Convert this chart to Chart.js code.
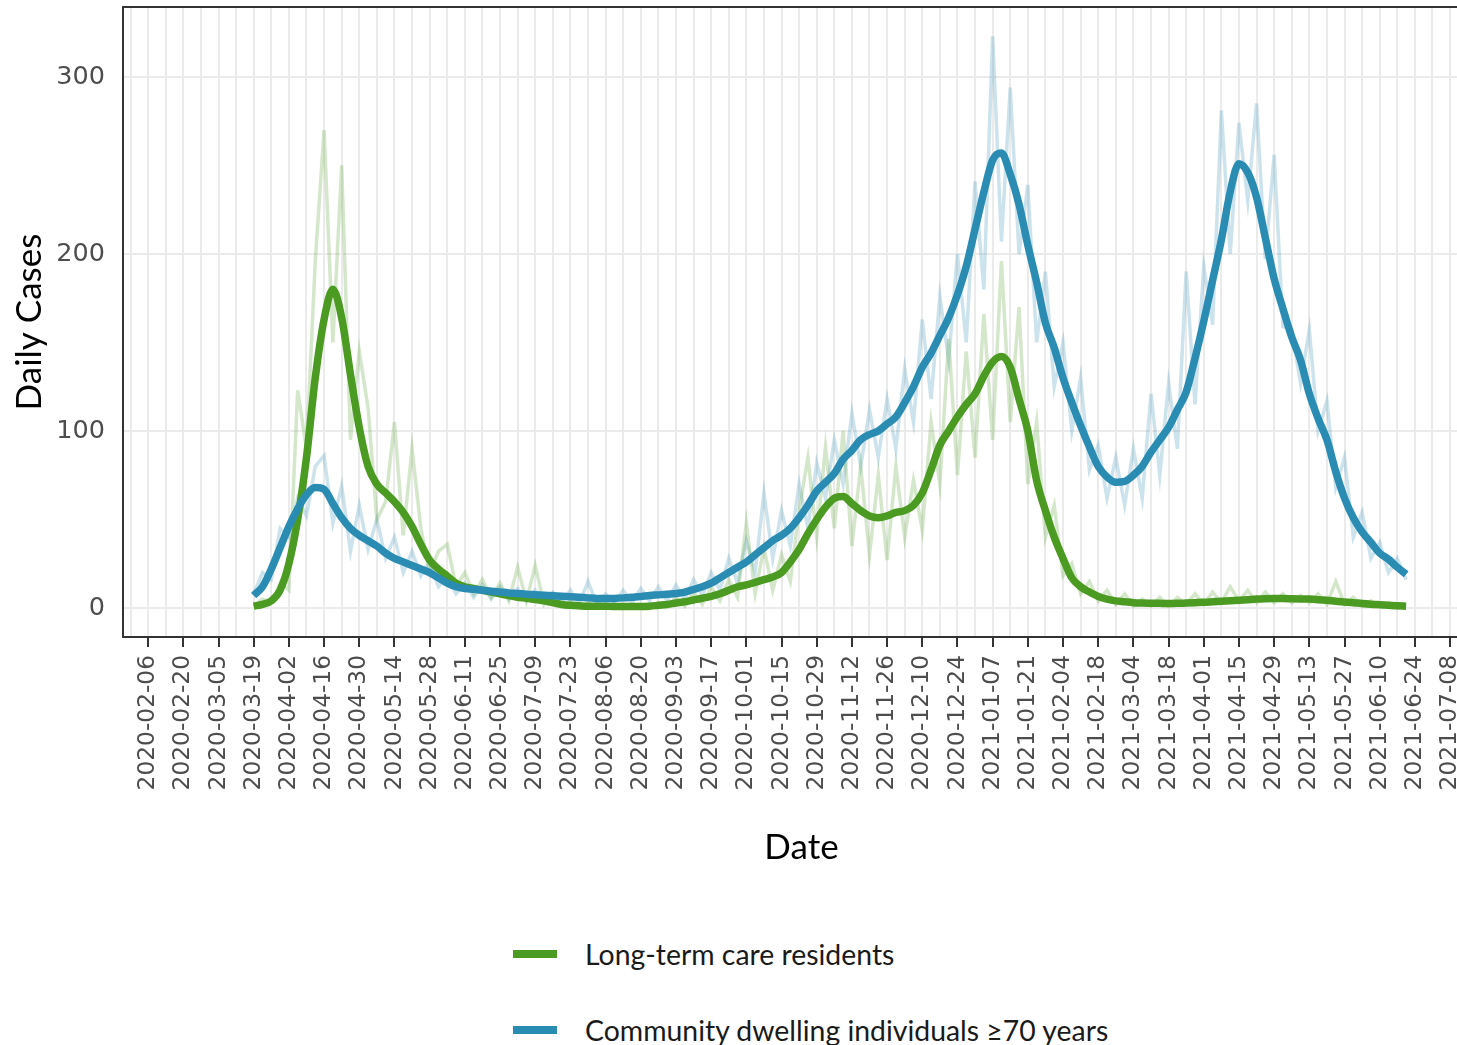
<!DOCTYPE html>
<html>
<head>
<meta charset="utf-8">
<title>Daily Cases</title>
<script src="https://cdn.jsdelivr.net/npm/chart.js@4.4.1/dist/chart.umd.min.js"></script>
<style>
  html, body { margin: 0; padding: 0; background: #fff; overflow: hidden; }
  #chart { display: block; }
  .legend-item {
    position: absolute;
    left: 513px;
    height: 40px;
    display: flex;
    align-items: center;
    font-family: Lato, "Open Sans", sans-serif;
    font-size: 28.4px;
    color: #1a1a1a;
    white-space: nowrap;
  }
  .legend-item .swatch { width: 44px; height: 8px; margin-right: 28px; }
</style>
</head>
<body>
<canvas id="chart" width="1480" height="900"></canvas>
<div id="legend"></div>

<script>
// Days are counted from 2020-02-06 (the first x tick); values are sampled every 3.5 days
const dayZero = Date.UTC(2020, 1, 6);
const firstDay = 42;      // 2020-03-19
const stepDays = 3.5;

const seriesNames = ['Long-term care residents', 'Community dwelling individuals \u226570 years'];
const seriesColors = ['#4b9a22', '#2b8cb3'];

// Reported daily cases (faint lines)
const ltcRaw = [
  1, 5, 3, 14, 10, 123, 90, 196, 270, 150,
  250, 95, 145, 113, 50, 60, 105, 41, 90, 45,
  20, 32, 36, 12, 20, 8, 16, 6, 14, 4,
  23, 4, 24, 2, 8, 1, 4, 0, 3, 0,
  2, 0, 2, 0, 2, 0, 3, 1, 6, 1,
  9, 2, 12, 4, 16, 6, 48, 8, 34, 10,
  30, 15, 55, 85, 40, 91, 45, 100, 35, 80,
  30, 75, 27, 80, 40, 72, 44, 105, 70, 152,
  75, 145, 85, 166, 95, 196, 105, 170, 70, 105,
  40, 58, 18, 25, 8, 15, 4, 10, 2, 8,
  1, 5, 1, 6, 1, 6, 2, 8, 2, 9,
  3, 12, 4, 10, 3, 9, 3, 8, 3, 7,
  3, 8, 2, 15, 2, 6, 1, 4, 1, 3,
  0, 2
];
const communityRaw = [
  8, 20, 16, 45, 40, 62, 52, 80, 86, 48,
  69, 32, 58, 33, 50, 28, 40, 20, 32, 18,
  26, 12, 18, 8, 14, 6, 13, 5, 12, 5,
  11, 4, 10, 4, 9, 3, 10, 2, 15, 2,
  8, 3, 10, 3, 11, 4, 12, 4, 13, 5,
  16, 7, 20, 10, 28, 14, 38, 20, 65, 28,
  55, 35, 70, 45, 82, 62, 95, 70, 110, 80,
  112, 85, 118, 90, 135, 105, 163, 118, 176, 140,
  200, 150, 241, 180, 323, 207, 294, 200, 239, 150,
  190, 125, 150, 100, 130, 78, 92, 62, 85, 58,
  90, 62, 121, 75, 127, 90, 190, 115, 193, 160,
  281, 200, 274, 230, 285, 197, 256, 159, 157, 127,
  157, 100, 117, 68, 85, 40, 54, 28, 37, 20,
  28, 16
];

// Smoothed trend (thick lines)
const ltcSmooth = [
  1, 2, 4, 10, 25, 50, 85, 130, 163, 180,
  164, 132, 102, 80, 70, 65, 60, 54, 46, 36,
  27, 22, 18, 14, 12, 11, 10, 9, 8, 7,
  6, 5.5, 4.7, 4, 3, 2, 1.5, 1.2, 1, 1,
  1, 0.8, 0.8, 0.8, 0.8, 1, 1.5, 2, 2.8, 3.5,
  4.5, 5.5, 6.6, 8, 10, 12, 13, 14.5, 16, 17.5,
  20, 26, 33, 42, 50, 57, 62, 63, 59, 55,
  52, 51, 52, 54, 55, 58, 65, 78, 92, 100,
  108, 115, 121, 131, 139, 142, 136, 118, 100, 72,
  55, 40, 28, 17, 12, 9, 6.5, 5, 4, 3.5,
  3, 2.8, 2.7, 2.6, 2.5, 2.6, 2.8, 3, 3.2, 3.5,
  3.8, 4.1, 4.4, 4.7, 5, 5.2, 5.3, 5.3, 5.2, 5.1,
  5, 4.7, 4.3, 3.8, 3.4, 3, 2.5, 2.1, 1.8, 1.5,
  1.2, 1
];
const communitySmooth = [
  7, 12, 22, 34, 46, 56, 64, 68, 67, 59,
  51, 45, 41, 38, 35, 31, 28, 26, 24, 22,
  20, 17, 14, 12, 11, 10.5, 10, 9.5, 9, 8.5,
  8.2, 7.8, 7.5, 7.2, 6.9, 6.6, 6.3, 6, 5.7, 5.4,
  5.3, 5.4, 5.7, 6.1, 6.5, 7, 7.4, 7.8, 8.2, 9,
  10.5, 12, 14, 17, 20, 23, 26, 30, 34, 38,
  41, 45, 51, 58, 66, 71, 76, 84, 89, 95,
  98, 100, 104, 108, 116, 125, 136, 144, 154, 164,
  177, 193, 214, 235, 253, 257, 245, 228, 205, 184,
  161, 147, 130, 116, 103, 91, 80, 74, 71, 71.5,
  75, 80, 88, 95, 102, 112, 122, 141, 162, 185,
  208, 235, 251, 246, 232, 209, 186, 169, 153, 140,
  121, 107, 95, 77, 62, 51, 43, 37, 31, 27.5,
  23, 19
];

const yTicks = [0, 100, 200, 300];

function dayToLabel(day) {
  return new Date(dayZero + day * 86400000).toISOString().slice(0, 10);
}

function toPoints(values) {
  return values.map((v, i) => ({ x: firstDay + i * stepDays, y: v }));
}

function hexToRgba(hex, a) {
  const n = parseInt(hex.slice(1), 16);
  return `rgba(${(n >> 16) & 255}, ${(n >> 8) & 255}, ${n & 255}, ${a})`;
}

// top edge of the panel (the axes draw left and bottom)
const panelTop = {
  id: 'panelTop',
  afterDraw(chart) {
    const { ctx, chartArea } = chart;
    ctx.save();
    ctx.strokeStyle = '#333';
    ctx.lineWidth = 2;
    ctx.beginPath();
    ctx.moveTo(chartArea.left, chartArea.top);
    ctx.lineTo(chartArea.right, chartArea.top);
    ctx.stroke();
    ctx.restore();
  }
};

const ctx = document.getElementById('chart').getContext('2d');

const chart = new Chart(ctx, {
  type: 'line',
  data: {
    datasets: [
      {
        label: seriesNames[1],
        data: toPoints(communitySmooth),
        borderColor: seriesColors[1],
        borderWidth: 7.5,
        cubicInterpolationMode: 'monotone',
        pointRadius: 0,
        order: 0
      },
      {
        label: seriesNames[0],
        data: toPoints(ltcSmooth),
        borderColor: seriesColors[0],
        borderWidth: 7.5,
        cubicInterpolationMode: 'monotone',
        pointRadius: 0,
        order: 1
      },
      {
        label: seriesNames[0] + ' (daily)',
        data: toPoints(ltcRaw),
        borderColor: hexToRgba(seriesColors[0], 0.24),
        borderWidth: 3.5,
        tension: 0,
        pointRadius: 0,
        order: 2
      },
      {
        label: seriesNames[1] + ' (daily)',
        data: toPoints(communityRaw),
        borderColor: hexToRgba(seriesColors[1], 0.24),
        borderWidth: 3.5,
        tension: 0,
        pointRadius: 0,
        order: 3
      }
    ]
  },
  options: {
    responsive: false,
    animation: false,
    layout: { padding: { top: 7, left: 0, right: 0, bottom: 0 } },
    plugins: {
      legend: { display: false },
      tooltip: { enabled: false }
    },
    scales: {
      x: {
        type: 'linear',
        min: -10,
        max: 529.9,
        afterFit: (scale) => {
          scale.height = 263;
          scale.paddingLeft = 0;
          scale.paddingRight = 0;
        },
        border: { display: true, color: '#333', width: 2 },
        grid: {
          color: '#ebebeb',
          lineWidth: 2,
          drawTicks: true,
          tickLength: 10,
          tickWidth: 2,
          tickColor: (c) => (c.tick && c.tick.value % 14 === 0 ? '#333' : 'rgba(0,0,0,0)')
        },
        ticks: {
          stepSize: 7,
          includeBounds: false,
          autoSkip: false,
          minRotation: 90,
          maxRotation: 90,
          padding: 8,
          color: '#4d4d4d',
          font: { family: '"DejaVu Sans", sans-serif', size: 23.3 },
          callback: (v) => (v % 14 === 0 ? dayToLabel(v) : '')
        },
        title: {
          display: true,
          text: 'Date',
          color: '#000',
          font: { family: 'Lato, "Open Sans", sans-serif', size: 35 },
          padding: { top: 0, bottom: 31 }
        }
      },
      y: {
        min: -16.4,
        max: 339.5,
        afterFit: (scale) => {
          scale.width = 123;
          scale.paddingTop = 0;
          scale.paddingBottom = 0;
        },
        border: { display: true, color: '#333', width: 2 },
        grid: { color: '#ebebeb', lineWidth: 2, drawTicks: false },
        afterBuildTicks: (axis) => { axis.ticks = yTicks.map((v) => ({ value: v })); },
        ticks: {
          padding: 18,
          color: '#4d4d4d',
          font: { family: '"DejaVu Sans", sans-serif', size: 25.5 }
        },
        title: {
          display: true,
          text: 'Daily Cases',
          color: '#000',
          font: { family: 'Lato, "Open Sans", sans-serif', size: 35 },
          padding: { top: 9, bottom: 0 }
        }
      }
    }
  },
  plugins: [panelTop]
});

// Legend below the chart, one entry per row
const legendTops = [934, 1010];
const legend = document.getElementById('legend');
seriesNames.forEach((name, i) => {
  const item = document.createElement('div');
  item.className = 'legend-item';
  item.style.top = legendTops[i] + 'px';
  const sw = document.createElement('span');
  sw.className = 'swatch';
  sw.style.background = seriesColors[i];
  const txt = document.createElement('span');
  txt.textContent = name;
  item.appendChild(sw);
  item.appendChild(txt);
  legend.appendChild(item);
});
</script>
</body>
</html>
